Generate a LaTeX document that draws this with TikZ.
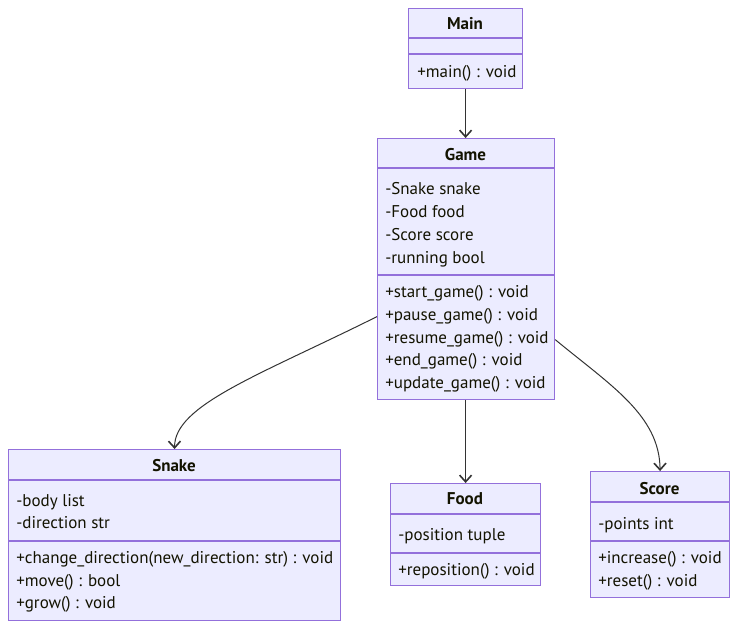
\documentclass[tikz,border=0pt]{standalone}
\usepackage{fontspec}
\setmainfont{PT Sans}
\usetikzlibrary{arrows.meta,calc}
\definecolor{boxfill}{HTML}{ECECFF}
\definecolor{boxline}{HTML}{9370DB}
\definecolor{edgecol}{HTML}{333333}
\definecolor{txtcol}{HTML}{131300}
\begin{document}
\begin{tikzpicture}[x=0.75pt,y=-0.75pt,
  umlbox/.style={draw=boxline, fill=boxfill, line width=0.9pt, inner sep=0pt, anchor=north west},
  divider/.style={draw=boxline, line width=0.9pt},
  mem/.style={anchor=base west, inner sep=0pt, text=txtcol, font=\fontsize{12.75}{15}\selectfont},
  ttl/.style={anchor=base, inner sep=0pt, text=txtcol, font=\fontsize{12.75}{15}\selectfont\bfseries},
  conn/.style={draw=edgecol, line width=0.75pt, -{Straight Barb[length=5pt,width=9pt,line width=1.2pt]}}]
\useasboundingbox (0,0) rectangle (745,635);

% boxes
\node[umlbox, minimum width=85.5pt, minimum height=60pt] (main) at (408,8) {};
\node[umlbox, minimum width=132.75pt, minimum height=195.75pt] (game) at (377,138) {};
\node[umlbox, minimum width=249pt, minimum height=128.25pt] (snake) at (8,449) {};
\node[umlbox, minimum width=112.5pt, minimum height=76.5pt] (food) at (390,483) {};
\node[umlbox, minimum width=104.25pt, minimum height=94.5pt] (score) at (590,471) {};

% dividers
\draw[divider] (408,38) -- (522,38);
\draw[divider] (408,54) -- (522,54);
\draw[divider] (377,168) -- (554,168);
\draw[divider] (377,275) -- (554,275);
\draw[divider] (8,480) -- (340,480);
\draw[divider] (8,541) -- (340,541);
\draw[divider] (390,514) -- (540,514);
\draw[divider] (390,553) -- (540,553);
\draw[divider] (590,502) -- (729,502);
\draw[divider] (590,541) -- (729,541);

% Main
\node[ttl] (mainT) at (465,29.5) {Main};
\node[mem] (mainM1) at (417,77) {+main() : void};

% Game
\node[ttl] (gameT) at (465.5,160.5) {Game};
\node[mem] (gameA1) at (385,194) {-Snake snake};
\node[mem] (gameA2) at (385,217) {-Food food};
\node[mem] (gameA3) at (385,240) {-Score score};
\node[mem] (gameA4) at (385,263) {-running bool};
\node[mem] (gameM1) at (385,297) {+start\_game() : void};
\node[mem] (gameM2) at (385,320) {+pause\_game() : void};
\node[mem] (gameM3) at (385,343) {+resume\_game() : void};
\node[mem] (gameM4) at (385,365) {+end\_game() : void};
\node[mem] (gameM5) at (385,388) {+update\_game() : void};

% Snake
\node[ttl] (snakeT) at (174,471.5) {Snake};
\node[mem] (snakeA1) at (16,506) {-body list};
\node[mem] (snakeA2) at (16,528) {-direction str};
\node[mem] (snakeM1) at (16,563) {+change\_direction(new\_direction: str) : void};
\node[mem] (snakeM2) at (16,586) {+move() : bool};
\node[mem] (snakeM3) at (16,608) {+grow() : void};

% Food
\node[ttl] (foodT) at (465,504.5) {Food};
\node[mem] (foodA1) at (398,540) {-position tuple};
\node[mem] (foodM1) at (398,575) {+reposition() : void};

% Score
\node[ttl] (scoreT) at (659.5,494) {Score};
\node[mem] (scoreA1) at (598,529) {-points int};
\node[mem] (scoreM1) at (598,563) {+increase() : void};
\node[mem] (scoreM2) at (598,586) {+reset() : void};

% connectors
\draw[conn] (main.south) -- (main.south |- game.north);
\draw[conn] (food.north |- game.south) -- (food.north);
\draw[conn] ($(game.west)+(0,47.5)$) .. controls (260,375) and (174,405) .. (snake.north);
\draw[conn] ($(game.east)+(0,70.5)$) .. controls (610,385) and (659.5,415) .. (score.north);
\end{tikzpicture}
\end{document}
